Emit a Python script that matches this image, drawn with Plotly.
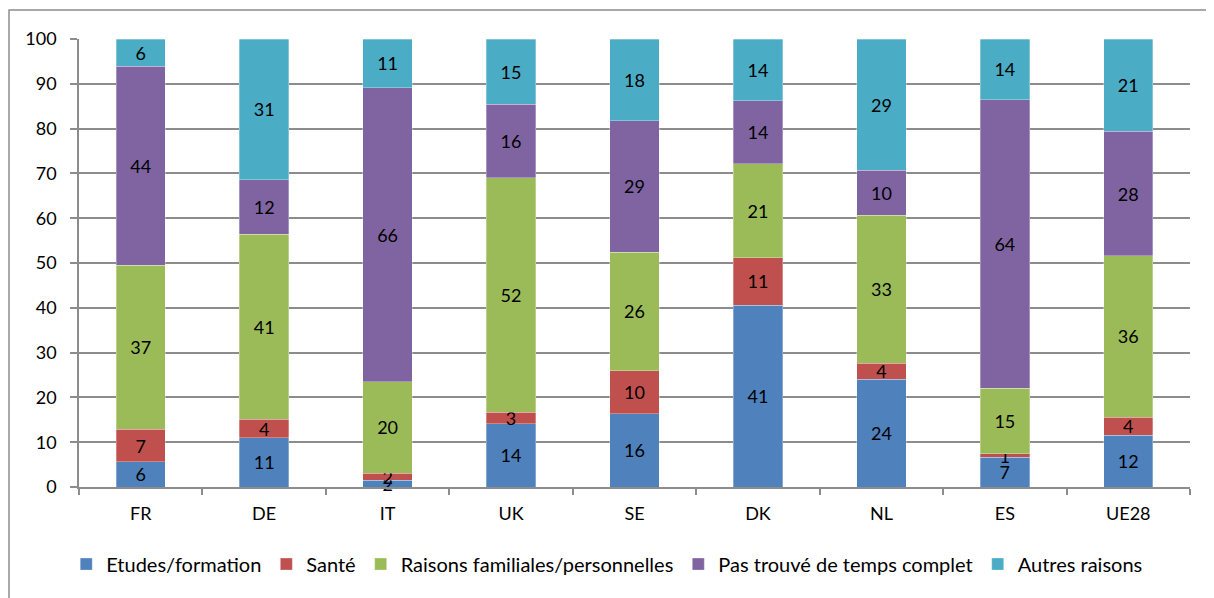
import plotly.graph_objects as go

pays = ["FR", "DE", "IT", "UK", "SE", "DK", "NL", "ES", "UE28"]
etudes = [5.6, 11.0, 1.5, 14.1, 16.4, 40.6, 24.0, 6.6, 11.5]
sante = [7.3, 4.1, 1.6, 2.6, 9.6, 10.6, 3.6, 0.8, 4.1]
familiales = [36.6, 41.3, 20.4, 52.3, 26.4, 20.9, 33.1, 14.6, 36.0]
pas_trouve = [44.4, 12.2, 65.6, 16.4, 29.4, 14.1, 10.0, 64.4, 27.8]
autres = [6.1, 31.4, 10.9, 14.6, 18.2, 13.8, 29.3, 13.6, 20.6]
y_ticks = [0, 10, 20, 30, 40, 50, 60, 70, 80, 90, 100]

series = [
    ("Etudes/formation", etudes, "#4F81BD"),
    ("Santé", sante, "#C0504D"),
    ("Raisons familiales/personnelles", familiales, "#9BBB59"),
    ("Pas trouvé de temps complet", pas_trouve, "#8064A2"),
    ("Autres raisons", autres, "#4BACC6"),
]

FONT = "Lato, 'Open Sans', sans-serif"

fig = go.Figure()
for name, vals, col in series:
    fig.add_trace(go.Bar(
        x=pays, y=vals, name=name,
        marker=dict(color=col, line=dict(color="rgba(255,255,255,0.5)", width=0.6)),
        texttemplate="%{y:.0f}", textposition="inside", insidetextanchor="middle",
        constraintext="none", textangle=0, cliponaxis=False,
        textfont=dict(color="black", size=18, family=FONT),
        hoverinfo="x+y+name",
    ))

fig.update_layout(
    barmode="stack", bargap=0.6,
    width=1206, height=590,
    margin=dict(l=71, r=24, t=31, b=111),
    paper_bgcolor="white", plot_bgcolor="white",
    font=dict(family=FONT, size=18, color="black"),
    showlegend=True,
    legend=dict(orientation="h", x=0.475, xanchor="center", y=-0.172, yanchor="middle",
                font=dict(size=20, family=FONT), itemwidth=30, traceorder="normal"),
    uniformtext=dict(mode=False),
    shapes=[dict(type="rect", xref="paper", yref="paper",
                 x0=-0.063, x1=1.2, y0=-0.5, y1=1.0647,
                 line=dict(color="#8C8C8C", width=1.5), fillcolor="rgba(0,0,0,0)", layer="below")],
)
fig.update_xaxes(showline=True, linecolor="#8C8C8C", linewidth=1.5,
                 ticks="outside", ticklen=6, tickcolor="#8C8C8C", tickwidth=1.5,
                 tickson="boundaries", showgrid=False,
                 tickfont=dict(size=18, family=FONT), ticklabelstandoff=10)
fig.update_yaxes(range=[0, 100], tickvals=y_ticks, showline=True, linecolor="#8C8C8C", linewidth=1.5,
                 ticks="outside", ticklen=7, tickcolor="#8C8C8C", tickwidth=1.5,
                 showgrid=True, gridcolor="#8C8C8C", gridwidth=1.5, zeroline=False,
                 tickfont=dict(size=18, family=FONT), ticklabelstandoff=10)

fig.write_html("out.html")
